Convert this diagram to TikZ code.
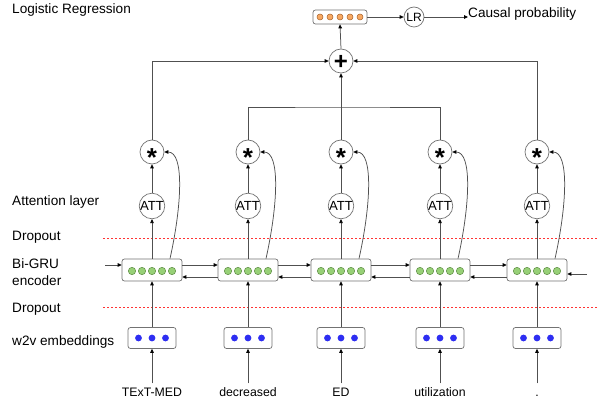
\documentclass[tikz,border=0pt]{standalone}
\usepackage{fontspec}
\setmainfont{Liberation Sans}
\usetikzlibrary{calc,positioning,arrows.meta}

\definecolor{dotgreen}{HTML}{97D077}
\definecolor{dotgreenline}{HTML}{5F8F45}
\definecolor{dotorange}{HTML}{F7A862}
\definecolor{dotorangeline}{HTML}{A8622A}
\definecolor{dotblue}{HTML}{2E2EF2}
\definecolor{wire}{HTML}{505050}

\tikzset{
  wire/.style={draw=wire, line width=0.75pt},
  arr/.style={wire, -{Triangle[length=4pt,width=3.6pt,color=black]}},
  vecbox/.style={draw=black!55, line width=0.7pt, rounded corners=2.5pt, fill=white, inner sep=0pt},
  op/.style={circle, draw=black!55, line width=0.7pt, fill=white, inner sep=0pt, minimum size=25pt},
  dropline/.style={draw=red!80, line width=0.6pt, dash pattern=on 2pt off 2pt},
  sidetxt/.style={anchor=base west, inner sep=0pt, font=\fontsize{13.6}{17}\selectfont},
  word/.style={anchor=base, text height=9pt, text depth=3pt, font=\fontsize{12.3}{14}\selectfont},
}

\begin{document}
\begin{tikzpicture}[x=1pt, y=-1pt, font=\fontsize{13.2}{14}\selectfont]
\useasboundingbox (0,0) rectangle (597,403);

% layer names
\node[sidetxt] (tLR) at (12,14) {Logistic Regression};
\node[sidetxt] (tATT) at (12,206) {Attention layer};
\node[sidetxt] (tDrop1) at (12,241) {Dropout};
\node[sidetxt, anchor=west, align=left] (tGRU) at (12,271.7) {Bi-GRU\\encoder};
\node[sidetxt] (tDrop2) at (12,312.5) {Dropout};
\node[sidetxt] (tW2V) at (12,345) {w2v embeddings};

% dropout
\draw[dropline] (103,238) -- (597,238);
\draw[dropline] (103,307) -- (597,307);

% columns
\foreach \i/\x/\w in {1/152/TExT-MED, 2/248/decreased, 3/341/ED, 4/440/utilization, 5/537/.}
{
  \node[vecbox, minimum width=60pt, minimum height=22pt] (g\i) at (\x,270) {};
  \foreach \d in {-20,-10,0,10,20}
    \filldraw[fill=dotgreen, draw=dotgreenline, line width=0.5pt] ($(g\i)+(\d,1)$) circle (3.7pt);
  \node[vecbox, minimum width=48pt, minimum height=21pt] (e\i) at (\x,338) {};
  \foreach \d in {-13.5,0,13.5}
    \fill[dotblue] ($(e\i)+(\d,0)$) circle (3.4pt);
  \node[op] (a\i) at (\x,206) {ATT};
  \node[op, minimum size=24pt] (s\i) at (\x,152) {\fontsize{26}{26}\selectfont\bfseries\raisebox{-15pt}[0pt][0pt]{*}};
  \node[word] (w\i) at (\x,396) {\w};

  \draw[arr] (w\i.north) -- (e\i.south);
  \draw[arr] (e\i.north) -- (g\i.south);
  \draw[arr] (g\i.north) -- (a\i.south);
  \draw[arr] (a\i.north) -- (s\i.south);
  \draw[arr] ($(g\i.north)+(18,0)$) .. controls +(12,-54) and +(20,0) .. (s\i.east);
}

% Bi-GRU links
\foreach \i [count=\j from 2] in {1,...,4}
{
  \draw[arr] ($(g\i.east)+(0,-5)$) -- ($(g\j.west)+(0,-5)$);
  \draw[arr] ($(g\j.west)+(0,7)$) -- ($(g\i.east)+(0,7)$);
}
\coordinate (inL) at (105,265);
\coordinate (inR) at (587,274);
\draw[arr] (inL) -- (inL -| g1.west);
\draw[arr] (inR) -- (inR -| g5.east);

% sum and output
\node[op, minimum size=24pt] (plus) at (341,61) {\fontsize{24}{24}\selectfont\bfseries\raisebox{-8.4pt}[0pt][0pt]{+}};
\node[vecbox, minimum width=54pt, minimum height=14pt] (lrin) at (340,17) {};
\foreach \d in {-20,-10,0,10,20}
  \filldraw[fill=dotorange, draw=dotorangeline, line width=0.5pt] ($(lrin)+(\d,0)$) circle (3pt);
\node[op, minimum size=20pt, font=\fontsize{12}{13}\selectfont] (lr) at (414,17) {LR};
\node[sidetxt] (prob) at (468,18) {Causal probability};

\coordinate (mid) at (341,107);
\draw[arr] (s1.north) |- (plus.west);
\draw[arr] (s5.north) |- (plus.east);
\draw[wire] (s2.north) |- (mid) -| (s4.north);
\draw[arr] (s3.north) -- (plus.south);
\draw[arr] (plus.north) -- (lrin.south);
\draw[arr] (lrin.east) -- (lr.west);
\draw[arr] (lr.east) -- (lr.east -| prob.west);

\end{tikzpicture}
\end{document}
